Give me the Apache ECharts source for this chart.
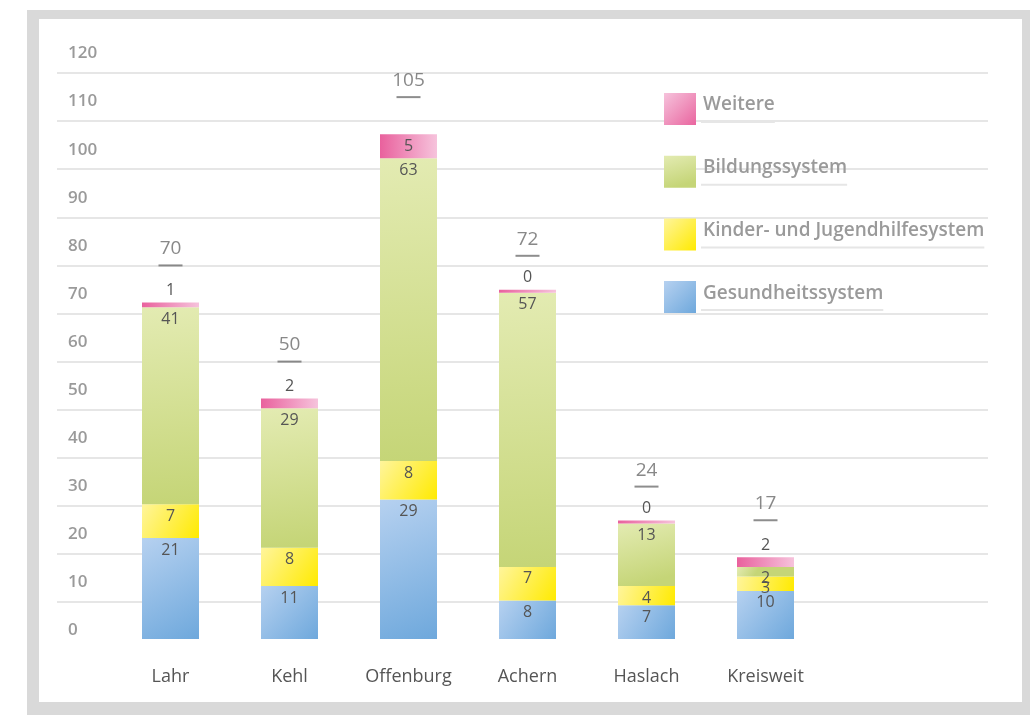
<!DOCTYPE html>
<html>
<head>
<meta charset="utf-8">
<script src="https://cdn.jsdelivr.net/npm/echarts@6/dist/echarts.min.js"></script>
<style>
  html, body { margin: 0; padding: 0; background: #fff; }
  #frame { position: absolute; left: 27px; top: 10px; width: 1003px; height: 705px; background: #d9d9d9; }
  #inner { position: absolute; left: 39px; top: 19px; width: 983px; height: 683px; background: #fff; }
  #chart { position: absolute; left: 0; top: 0; width: 1030px; height: 715px; }
</style>
</head>
<body>
<div id="frame"></div>
<div id="inner"></div>
<div id="chart"></div>
<script>
var categories = ['Lahr', 'Kehl', 'Offenburg', 'Achern', 'Haslach', 'Kreisweit'];
var gesundheit = [21, 11, 29, 8, 7, 10];
var kinder = [7, 8, 8, 7, 4, 3];
var bildung = [41, 29, 63, 57, 13, 2];
var weitere = [1, 2, 5, 0, 0, 2];
var yTicks = [0, 120, 10]; // min, max, step

var totals = categories.map(function (c, i) {
    return gesundheit[i] + kinder[i] + bildung[i] + weitere[i];
});

var font = 'Open Sans';

function grad(x2, y2, c1, c2) {
    return { type: 'linear', x: 0, y: 0, x2: x2, y2: y2,
             colorStops: [{ offset: 0, color: c1 }, { offset: 1, color: c2 }] };
}

var valueLabel = {
    show: true,
    position: 'insideTop',
    distance: 4,
    color: '#555',
    fontSize: 16,
    fontFamily: font
};

var dom = document.getElementById('chart');
var myChart = echarts.init(dom);

option = {
    animation: false,
    grid: [
        { left: 111, right: 205, top: 62, bottom: 76 },
        { left: 57, right: 42, top: 73, bottom: 65 }
    ],
    legend: {
        orient: 'vertical',
        left: 664,
        top: 93,
        padding: 0,
        itemWidth: 32,
        itemHeight: 32,
        itemGap: 27.7,
        icon: 'rect',
        data: [
            { name: 'Weitere', itemStyle: { color: grad(1, 1, '#f6c3dc', '#e9659f') } },
            { name: 'Bildungssystem' },
            { name: 'Kinder- und Jugendhilfesystem' },
            { name: 'Gesundheitssystem' }
        ],
        formatter: function (name) {
            return '{t|' + name + '}\n{u|}';
        },
        textStyle: {
            rich: {
                t: { fontSize: 19, color: '#9a9a9a', fontFamily: font, fontWeight: 600, lineHeight: 26, padding: [0, 0, 0, 2] },
                u: { width: '100%', height: 2, lineHeight: 8, backgroundColor: '#e6e6e6' }
            }
        }
    },
    xAxis: [
        {
            type: 'category',
            gridIndex: 0,
            data: categories,
            axisLine: { show: false },
            axisTick: { show: false },
            axisLabel: { color: '#555', fontSize: 18, fontFamily: font, margin: 29 }
        },
        { type: 'category', gridIndex: 1, data: categories, show: false }
    ],
    yAxis: [
        {
            type: 'value',
            gridIndex: 0,
            min: yTicks[0],
            max: yTicks[1],
            interval: yTicks[2],
            axisLine: { show: false },
            axisTick: { show: false },
            splitLine: { show: false },
            axisLabel: {
                align: 'left',
                margin: 43,
                verticalAlign: 'bottom',
                lineHeight: 17,
                color: '#9a9a9a',
                fontSize: 17,
                fontWeight: 600,
                fontFamily: font
            }
        },
        {
            type: 'value',
            gridIndex: 1,
            min: yTicks[0],
            max: yTicks[1],
            interval: yTicks[2],
            axisLine: { show: false },
            axisTick: { show: false },
            axisLabel: { show: false },
            splitLine: { showMinLine: false, lineStyle: { color: '#e6e6e6', width: 2 } }
        }
    ],
    series: [
        {
            name: 'Gesundheitssystem',
            type: 'bar',
            stack: 'all',
            barWidth: 57,
            data: gesundheit,
            itemStyle: { color: grad(1, 1, '#b6d1f0', '#6ea8dc') },
            label: valueLabel
        },
        {
            name: 'Kinder- und Jugendhilfesystem',
            type: 'bar',
            stack: 'all',
            data: kinder,
            itemStyle: { color: grad(1, 1, '#fff59c', '#ffea00') },
            label: valueLabel
        },
        {
            name: 'Bildungssystem',
            type: 'bar',
            stack: 'all',
            data: bildung,
            itemStyle: { color: grad(0.3, 1, '#e3ebb2', '#c5d577') },
            label: valueLabel
        },
        {
            name: 'Weitere',
            type: 'bar',
            stack: 'all',
            barMinHeight: 3,
            data: weitere.map(function (v) {
                return { value: v, label: { position: v >= 4 ? 'insideTop' : 'top' } };
            }),
            itemStyle: { color: grad(1, 0, '#e9619d', '#f6c3dc') },
            label: valueLabel
        },
        {
            name: 'Summe',
            type: 'scatter',
            data: totals,
            symbol: 'rect',
            symbolSize: [24, 2],
            symbolOffset: [0, -37],
            itemStyle: { color: '#707070' },
            z: 5,
            label: {
                show: true,
                position: 'top',
                distance: 6,
                color: '#6a6a6a',
                fontSize: 19,
                fontFamily: font
            }
        }
    ]
};

if (option && typeof option === "object") {
    myChart.setOption(option, true);
}
</script>
</body>
</html>
